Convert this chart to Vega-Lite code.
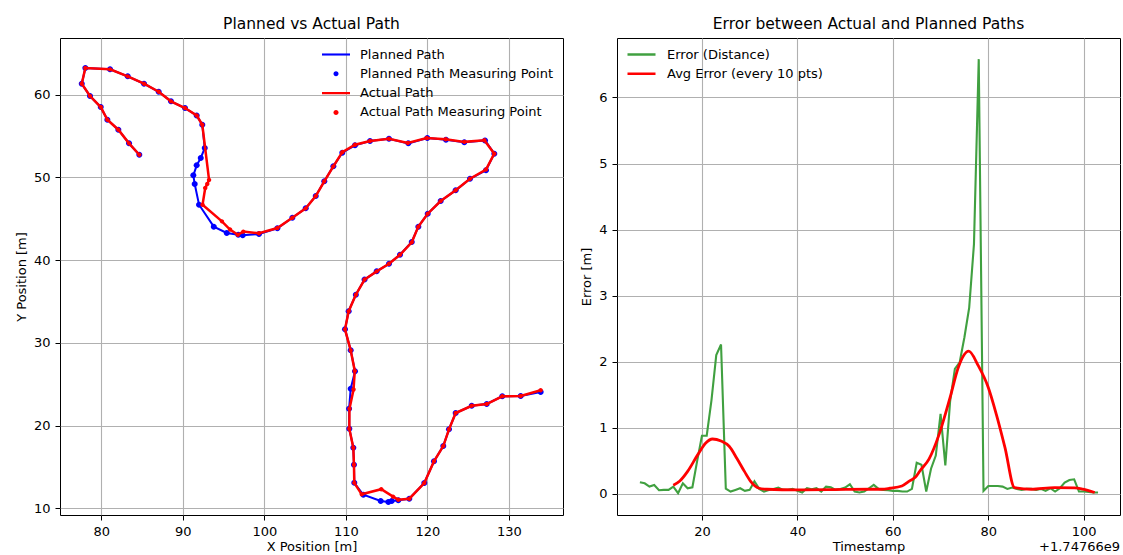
{
  "$schema": "https://vega.github.io/schema/vega-lite/v6.json",
  "padding": {"left": 14, "top": 16, "right": 0, "bottom": 0},
  "spacing": 16,
  "resolve": {"scale": {"color": "independent", "shape": "independent"}, "legend": {"color": "independent", "shape": "independent"}},
  "datasets": {
    "planned": [
      {"i":1,"x":84.66,"y":52.74},{"i":2,"x":83.40,"y":54.12},{"i":3,"x":82.09,"y":55.77},{"i":4,"x":80.74,"y":56.98},
      {"i":5,"x":79.93,"y":58.51},{"i":6,"x":78.61,"y":59.84},{"i":7,"x":77.60,"y":61.33},{"i":8,"x":78.04,"y":63.23},
      {"i":9,"x":81.07,"y":63.07},{"i":10,"x":83.24,"y":62.22},{"i":11,"x":85.24,"y":61.33},{"i":12,"x":87.04,"y":60.36},
      {"i":13,"x":88.55,"y":59.20},{"i":14,"x":90.27,"y":58.39},{"i":15,"x":91.70,"y":57.50},{"i":16,"x":92.39,"y":56.37},
      {"i":17,"x":92.69,"y":53.55},{"i":18,"x":92.20,"y":52.35},{"i":19,"x":91.70,"y":51.46},{"i":20,"x":91.29,"y":50.25},
      {"i":21,"x":91.46,"y":49.20},{"i":22,"x":91.99,"y":46.70},{"i":23,"x":93.80,"y":44.05},{"i":24,"x":95.39,"y":43.28},
      {"i":25,"x":96.81,"y":43.07},{"i":26,"x":97.35,"y":43.00},{"i":27,"x":99.35,"y":43.16},{"i":28,"x":101.60,"y":43.85},
      {"i":29,"x":103.44,"y":45.13},{"i":30,"x":105.08,"y":46.26},{"i":31,"x":106.31,"y":47.75},{"i":32,"x":107.36,"y":49.53},
      {"i":33,"x":108.47,"y":51.34},{"i":34,"x":109.57,"y":52.99},{"i":35,"x":111.13,"y":53.88},{"i":36,"x":112.97,"y":54.40},
      {"i":37,"x":115.30,"y":54.68},{"i":38,"x":117.67,"y":54.12},{"i":39,"x":120.00,"y":54.76},{"i":40,"x":122.29,"y":54.56},
      {"i":41,"x":124.54,"y":54.24},{"i":42,"x":127.08,"y":54.48},{"i":43,"x":128.22,"y":52.87},{"i":44,"x":127.20,"y":50.86},
      {"i":45,"x":125.24,"y":49.84},{"i":46,"x":123.48,"y":48.44},{"i":47,"x":121.64,"y":47.15},{"i":48,"x":120.05,"y":45.61},
      {"i":49,"x":118.90,"y":44.05},{"i":50,"x":118.09,"y":42.20},{"i":51,"x":116.65,"y":40.65},{"i":52,"x":115.30,"y":39.56},
      {"i":53,"x":113.79,"y":38.64},{"i":54,"x":112.30,"y":37.65},{"i":55,"x":111.23,"y":35.82},{"i":56,"x":110.35,"y":33.83},
      {"i":57,"x":109.90,"y":31.63},{"i":58,"x":110.60,"y":29.09},{"i":59,"x":111.13,"y":26.55},{"i":60,"x":110.60,"y":24.45},
      {"i":61,"x":110.40,"y":22.03},{"i":62,"x":110.43,"y":19.61},{"i":63,"x":110.92,"y":17.32},{"i":64,"x":111.00,"y":15.26},
      {"i":65,"x":111.04,"y":13.07},{"i":66,"x":112.15,"y":11.63},{"i":67,"x":114.28,"y":10.87},{"i":68,"x":115.22,"y":10.75},
      {"i":69,"x":115.63,"y":10.87},{"i":70,"x":116.44,"y":10.95},{"i":71,"x":117.79,"y":11.15},{"i":72,"x":119.63,"y":13.05},
      {"i":73,"x":120.82,"y":15.67},{"i":74,"x":121.96,"y":17.52},{"i":75,"x":122.66,"y":19.54},{"i":76,"x":123.48,"y":21.51},
      {"i":77,"x":125.45,"y":22.39},{"i":78,"x":127.29,"y":22.60},{"i":79,"x":129.20,"y":23.53},{"i":80,"x":131.46,"y":23.57},
      {"i":81,"x":133.91,"y":24.05}
    ],
    "actual": [
      {"i":1,"x":84.66,"y":52.74},{"i":2,"x":83.40,"y":54.12},{"i":3,"x":82.09,"y":55.77},{"i":4,"x":80.74,"y":56.98},
      {"i":5,"x":79.93,"y":58.51},{"i":6,"x":78.61,"y":59.84},{"i":7,"x":77.60,"y":61.33},{"i":8,"x":78.04,"y":63.23},
      {"i":9,"x":81.07,"y":63.07},{"i":10,"x":83.24,"y":62.22},{"i":11,"x":85.24,"y":61.33},{"i":12,"x":87.04,"y":60.36},
      {"i":13,"x":88.55,"y":59.20},{"i":14,"x":90.27,"y":58.39},{"i":15,"x":91.70,"y":57.50},{"i":16,"x":92.39,"y":56.37},
      {"i":17,"x":93.22,"y":49.70},{"i":18,"x":93.00,"y":49.20},{"i":19,"x":92.75,"y":48.72},{"i":20,"x":92.42,"y":46.70},
      {"i":21,"x":94.80,"y":44.69},{"i":22,"x":95.79,"y":43.70},{"i":23,"x":96.75,"y":43.07},{"i":24,"x":97.42,"y":43.45},
      {"i":25,"x":99.35,"y":43.25},{"i":26,"x":101.60,"y":43.88},
      {"i":29,"x":103.44,"y":45.13},{"i":30,"x":105.08,"y":46.26},{"i":31,"x":106.31,"y":47.75},{"i":32,"x":107.36,"y":49.53},
      {"i":33,"x":108.47,"y":51.34},{"i":34,"x":109.57,"y":53.05},{"i":35,"x":111.13,"y":53.95},{"i":36,"x":112.97,"y":54.40},
      {"i":37,"x":115.30,"y":54.68},{"i":38,"x":117.60,"y":54.16},{"i":39,"x":119.93,"y":54.76},{"i":40,"x":122.26,"y":54.62},
      {"i":41,"x":124.54,"y":54.30},{"i":42,"x":127.00,"y":54.50},{"i":43,"x":128.22,"y":52.87},{"i":44,"x":127.20,"y":50.95},
      {"i":45,"x":125.24,"y":49.84},{"i":46,"x":123.48,"y":48.44},{"i":47,"x":121.64,"y":47.15},{"i":48,"x":120.05,"y":45.61},
      {"i":49,"x":118.90,"y":44.05},{"i":50,"x":118.09,"y":42.15},{"i":51,"x":116.65,"y":40.65},{"i":52,"x":115.30,"y":39.56},
      {"i":53,"x":113.79,"y":38.64},{"i":54,"x":112.30,"y":37.65},{"i":55,"x":111.23,"y":35.82},{"i":56,"x":110.35,"y":33.83},
      {"i":57,"x":109.90,"y":31.63},{"i":58,"x":110.60,"y":29.09},{"i":59,"x":111.10,"y":26.60},{"i":60,"x":110.95,"y":24.35},
      {"i":61,"x":110.45,"y":22.03},{"i":62,"x":110.43,"y":19.61},{"i":63,"x":110.92,"y":17.32},{"i":64,"x":111.00,"y":15.26},
      {"i":65,"x":111.04,"y":13.07},{"i":66,"x":111.95,"y":11.68},{"i":67,"x":114.35,"y":12.30},{"i":68,"x":115.80,"y":11.40},
      {"i":69,"x":116.44,"y":11.03},{"i":71,"x":117.79,"y":11.15},{"i":72,"x":119.63,"y":13.05},
      {"i":73,"x":120.82,"y":15.67},{"i":74,"x":121.96,"y":17.52},{"i":75,"x":122.66,"y":19.54},{"i":76,"x":123.48,"y":21.51},
      {"i":77,"x":125.45,"y":22.39},{"i":78,"x":127.29,"y":22.60},{"i":79,"x":129.20,"y":23.53},{"i":80,"x":131.46,"y":23.57},
      {"i":81,"x":133.91,"y":24.26}
    ],
    "err": [
      {"t":7,"e":0.176},{"t":8,"e":0.16},{"t":9,"e":0.11},{"t":10,"e":0.135},{"t":11,"e":0.055},{"t":12,"e":0.06},
      {"t":13,"e":0.06},{"t":14,"e":0.11},{"t":15,"e":0.01},{"t":16,"e":0.16},{"t":17,"e":0.085},{"t":18,"e":0.10},
      {"t":19,"e":0.5},{"t":20,"e":0.88},{"t":21,"e":0.88},{"t":22,"e":1.42},{"t":23,"e":2.10},{"t":24,"e":2.26},
      {"t":25,"e":0.08},{"t":26,"e":0.035},{"t":27,"e":0.06},{"t":28,"e":0.085},{"t":29,"e":0.045},{"t":30,"e":0.06},
      {"t":31,"e":0.19},{"t":32,"e":0.075},{"t":33,"e":0.035},{"t":34,"e":0.06},{"t":35,"e":0.075},{"t":36,"e":0.095},
      {"t":37,"e":0.06},{"t":38,"e":0.06},{"t":39,"e":0.075},{"t":40,"e":0.045},{"t":41,"e":0.02},{"t":42,"e":0.085},
      {"t":43,"e":0.07},{"t":44,"e":0.085},{"t":45,"e":0.035},{"t":46,"e":0.11},{"t":47,"e":0.10},{"t":48,"e":0.06},
      {"t":49,"e":0.075},{"t":50,"e":0.095},{"t":51,"e":0.145},{"t":52,"e":0.035},{"t":53,"e":0.02},{"t":54,"e":0.035},
      {"t":55,"e":0.085},{"t":56,"e":0.135},{"t":57,"e":0.075},{"t":58,"e":0.06},{"t":59,"e":0.055},{"t":60,"e":0.045},
      {"t":61,"e":0.045},{"t":62,"e":0.035},{"t":63,"e":0.035},{"t":64,"e":0.075},{"t":65,"e":0.47},{"t":66,"e":0.44},
      {"t":67,"e":0.035},{"t":68,"e":0.38},{"t":69,"e":0.58},{"t":70,"e":1.21},{"t":71,"e":0.43},{"t":72,"e":1.4},
      {"t":73,"e":1.89},{"t":74,"e":1.99},{"t":75,"e":2.37},{"t":76,"e":2.82},{"t":77,"e":3.78},{"t":78,"e":6.58},
      {"t":79,"e":0.045},{"t":80,"e":0.12},{"t":81,"e":0.12},{"t":82,"e":0.12},{"t":83,"e":0.11},{"t":84,"e":0.075},
      {"t":85,"e":0.095},{"t":86,"e":0.075},{"t":87,"e":0.06},{"t":88,"e":0.075},{"t":89,"e":0.075},{"t":90,"e":0.06},
      {"t":91,"e":0.075},{"t":92,"e":0.045},{"t":93,"e":0.085},{"t":94,"e":0.035},{"t":95,"e":0.085},{"t":96,"e":0.17},
      {"t":97,"e":0.21},{"t":98,"e":0.22},{"t":99,"e":0.035},{"t":100,"e":0.035},{"t":101,"e":0.03},{"t":102,"e":0.02},
      {"t":103,"e":0.02}
    ],
    "avg": [
      {"t":14,"e":0.13},{"t":15.3,"e":0.19},{"t":17,"e":0.34},{"t":19.1,"e":0.59},{"t":20.8,"e":0.77},{"t":22.2,"e":0.83},
      {"t":24,"e":0.80},{"t":25.7,"e":0.72},{"t":27.3,"e":0.54},{"t":28.9,"e":0.34},{"t":30.2,"e":0.19},{"t":32,"e":0.085},
      {"t":33.6,"e":0.07},{"t":40,"e":0.06},{"t":47.6,"e":0.065},{"t":55.3,"e":0.07},{"t":57.7,"e":0.07},{"t":59.4,"e":0.085},
      {"t":61.9,"e":0.12},{"t":63.6,"e":0.2},{"t":64.7,"e":0.25},{"t":65.7,"e":0.35},{"t":67.6,"e":0.53},{"t":69.7,"e":0.9},
      {"t":72,"e":1.46},{"t":73.7,"e":1.91},{"t":75.9,"e":2.16},{"t":77.9,"e":1.94},{"t":80,"e":1.61},{"t":81.7,"e":1.2},
      {"t":83.5,"e":0.7},{"t":85.5,"e":0.095},{"t":89,"e":0.07},{"t":93.9,"e":0.095},{"t":98.1,"e":0.09},{"t":99.8,"e":0.07},
      {"t":102.3,"e":0.02}
    ],
    "offsetlabel": [{"label": "+1.74766e9"}]
  },
  "hconcat": [
    {
      "width": 503,
      "height": 477,
      "title": {"text": "Planned vs Actual Path"},
      "encoding": {
        "x": {"field": "x", "type": "quantitative", "scale": {"domain": [74.93, 136.65], "nice": false, "zero": false}, "axis": {"title": "X Position [m]", "values": [80, 90, 100, 110, 120, 130], "format": "d"}},
        "y": {"field": "y", "type": "quantitative", "scale": {"domain": [9.18, 66.86], "nice": false, "zero": false}, "axis": {"title": "Y Position [m]", "values": [10, 20, 30, 40, 50, 60], "format": "d"}},
        "order": {"field": "i", "type": "quantitative"}
      },
      "layer": [
        {
          "data": {"name": "planned"},
          "mark": {"type": "line", "strokeWidth": 2, "color": "#0000ff"}
        },
        {
          "data": {"name": "planned"},
          "mark": {"type": "point", "filled": true, "opacity": 1, "size": 1110},
          "encoding": {
            "color": {"datum": "Planned Path Measuring Point", "scale": {"domain": ["Planned Path", "Planned Path Measuring Point", "Actual Path", "Actual Path Measuring Point"], "range": ["#0000ff", "#0000ff", "#ff0000", "#ff0000"]},
              "legend": {"title": null, "orient": "top-right", "offset": 9, "padding": 0, "labelFontSize": 13, "labelFont": "DejaVu Sans", "labelColor": "#000000", "symbolSize": 784, "clipHeight": 15, "rowPadding": 4.3, "labelOffset": 10, "symbolStrokeWidth": 0, "labelLimit": 400}},
            "shape": {"datum": "Planned Path Measuring Point", "scale": {"domain": ["Planned Path", "Planned Path Measuring Point", "Actual Path", "Actual Path Measuring Point"], "range": ["M-1,-0.075H1V0.075H-1Z", "M-0.18,0A0.18,0.18,0,1,0,0.18,0A0.18,0.18,0,1,0,-0.18,0Z", "M-1,-0.075H1V0.075H-1Z", "M-0.18,0A0.18,0.18,0,1,0,0.18,0A0.18,0.18,0,1,0,-0.18,0Z"]},
              "legend": {"title": null, "orient": "top-right", "offset": 9, "padding": 0, "labelFontSize": 13, "labelFont": "DejaVu Sans", "labelColor": "#000000", "symbolSize": 784, "clipHeight": 15, "rowPadding": 4.3, "labelOffset": 10, "symbolStrokeWidth": 0, "labelLimit": 400}}
          }
        },
        {
          "data": {"name": "actual"},
          "mark": {"type": "line", "strokeWidth": 2.5, "color": "#ff0000"}
        },
        {
          "data": {"name": "actual"},
          "mark": {"type": "point", "filled": true, "opacity": 1, "size": 600, "color": "#ff0000", "shape": "M-0.18,0A0.18,0.18,0,1,0,0.18,0A0.18,0.18,0,1,0,-0.18,0Z"}
        }
      ]
    },
    {
      "width": 503,
      "height": 477,
      "title": {"text": "Error between Actual and Planned Paths"},
      "layer": [
        {
          "data": {"name": "err"},
          "mark": {"type": "line", "strokeWidth": 2.1},
          "encoding": {
            "x": {"field": "t", "type": "quantitative", "scale": {"domain": [2.2, 107.6], "nice": false, "zero": false}, "axis": {"title": "Timestamp", "values": [20, 40, 60, 80, 100], "format": "d"}},
            "y": {"field": "e", "type": "quantitative", "scale": {"domain": [-0.32, 6.9], "nice": false, "zero": false}, "axis": {"title": "Error [m]", "values": [0, 1, 2, 3, 4, 5, 6], "format": "d"}},
            "color": {"datum": "Error (Distance)", "scale": {"domain": ["Error (Distance)", "Avg Error (every 10 pts)"], "range": ["#40a040", "#ff0000"]},
              "legend": {"title": null, "orient": "top-left", "offset": 9, "padding": 0, "labelFontSize": 13, "labelFont": "DejaVu Sans", "labelColor": "#000000", "symbolType": "stroke", "symbolSize": 784, "symbolStrokeWidth": 2.6, "clipHeight": 15, "rowPadding": 4.3, "labelOffset": 10, "labelLimit": 400}}
          }
        },
        {
          "data": {"name": "avg"},
          "mark": {"type": "line", "strokeWidth": 2.8, "interpolate": "monotone"},
          "encoding": {
            "x": {"field": "t", "type": "quantitative"},
            "y": {"field": "e", "type": "quantitative"},
            "color": {"datum": "Avg Error (every 10 pts)", "scale": {"domain": ["Error (Distance)", "Avg Error (every 10 pts)"], "range": ["#40a040", "#ff0000"]},
              "legend": {"title": null, "orient": "top-left", "offset": 9, "padding": 0, "labelFontSize": 13, "labelFont": "DejaVu Sans", "labelColor": "#000000", "symbolType": "stroke", "symbolSize": 784, "symbolStrokeWidth": 2.6, "clipHeight": 15, "rowPadding": 4.3, "labelOffset": 10, "labelLimit": 400}}
          }
        },
        {
          "data": {"name": "offsetlabel"},
          "mark": {"type": "text", "align": "right", "baseline": "middle", "fontSize": 13, "font": "DejaVu Sans", "fill": "#000000"},
          "encoding": {
            "x": {"datum": 107.6},
            "y": {"datum": -0.8},
            "text": {"field": "label", "type": "nominal"}
          }
        }
      ]
    }
  ],
  "config": {
    "font": "DejaVu Sans",
    "background": "#ffffff",
    "view": {"stroke": "#000000", "strokeWidth": 1},
    "axis": {
      "domain": false, "grid": true, "gridColor": "#b0b0b0", "gridWidth": 1.1,
      "tickColor": "#000000", "tickSize": 5, "tickWidth": 1,
      "labelFontSize": 13, "labelColor": "#000000", "labelFont": "DejaVu Sans", "labelPadding": 5,
      "titleFontSize": 13, "titleFontWeight": "normal", "titleColor": "#000000", "titleFont": "DejaVu Sans", "titlePadding": 5,
      "labelFlush": false
    },
    "axisX": {"titlePadding": 2},
    "title": {"fontSize": 15.5, "fontWeight": "normal", "font": "DejaVu Sans", "color": "#000000", "frame": "group", "anchor": "middle", "offset": 6}
  }
}
